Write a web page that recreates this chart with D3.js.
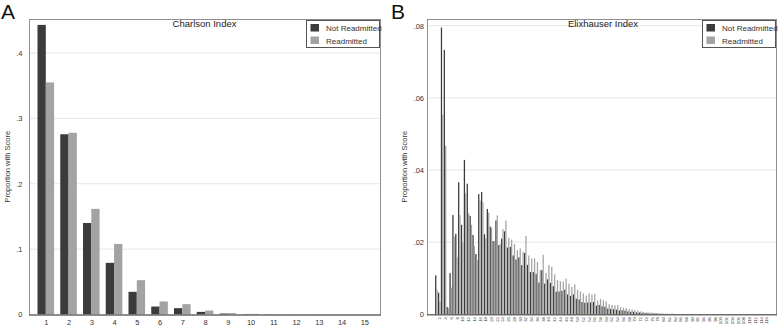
<!DOCTYPE html>
<html>
<head>
<meta charset="utf-8">
<script src="https://cdn.jsdelivr.net/npm/d3@7"></script>
<style>
  html, body { margin: 0; padding: 0; background: #fff; }
  svg { display: block; font-family: "Liberation Sans", Arial, sans-serif; }
</style>
</head>
<body>
<svg id="chart" width="778" height="326"></svg>
<script>
// ---------- DATA ----------
const seriesNames = ["Not Readmitted", "Readmitted"];

const charlsonCats = [1,2,3,4,5,6,7,8,9,10,11,12,13,14,15];
const charlsonNot  = [0.443,0.2757,0.140,0.079,0.0347,0.0122,0.0097,0.0040,0.0015,0.0006,0.0003,0.0002,0.0002,0.0001,0.0001];
const charlsonRe   = [0.355,0.2780,0.1616,0.108,0.0525,0.0199,0.0158,0.0060,0.0022,0.0010,0.0005,0.0003,0.0002,0.0002,0.0001];
const charlsonTicks = [0, 0.1, 0.2, 0.3, 0.4];

const elixCats = d3.range(1, 117);
const elixNot = [
  0.0108,0.0060,0.0795,0.0733,0.0020,0.0114,0.0275,0.0223,0.0366,0.0248,
  0.0428,0.0362,0.0273,0.0220,0.0167,0.0333,0.0339,0.0222,0.0292,0.0243,
  0.0203,0.0260,0.0192,0.0210,0.0230,0.0185,0.0187,0.0163,0.0152,0.0158,
  0.0136,0.0170,0.0137,0.0117,0.0117,0.0112,0.0088,0.0122,0.0085,0.0097,
  0.0087,0.0078,0.0063,0.0063,0.0065,0.0068,0.0055,0.0051,0.0055,0.0043,
  0.0041,0.0034,0.0032,0.0033,0.0033,0.0034,0.0024,0.0026,0.0022,0.0021,
  0.0016,0.0015,0.0014,0.0013,0.0011,0.0011,0.0010,0.0008,0.0007,0.0007,
  0.0005,0.0005,0.0004,0.0003,0.0003,0.0002,0.0002,0.0002,0.00015,0.00015,
  0.0001,0.0001,0.0001,0.0001,0.00008,0.00008,0.00006,0.00006,0.00005,0.00005,
  0.00004,0.00004,0.00003,0.00003,0.00003,0.00002,0.00002,0.00002,0.00002,0.00001,
  0.00001,0.00001,0.00001,0.00001,0.00001,0.00001,0,0,0,0,
  0,0,0,0,0,0
];
const elixRe = [
  0.0068,0.0036,0.0553,0.0467,0.0017,0.0074,0.0215,0.0158,0.0275,0.0198,
  0.0335,0.0280,0.0248,0.0190,0.0150,0.0315,0.0310,0.0210,0.0282,0.0240,
  0.0203,0.0274,0.0195,0.0236,0.0260,0.0212,0.0207,0.0195,0.0178,0.0183,
  0.0173,0.0217,0.0163,0.0155,0.0155,0.0145,0.0123,0.0165,0.0115,0.0137,
  0.0132,0.0111,0.0095,0.0092,0.0091,0.0099,0.0085,0.0076,0.0083,0.0068,
  0.0063,0.0058,0.0052,0.0058,0.0055,0.0056,0.0038,0.0043,0.0039,0.0036,
  0.0028,0.0026,0.0025,0.0026,0.0020,0.0018,0.0017,0.0015,0.0013,0.0012,
  0.0010,0.0008,0.0007,0.0006,0.0005,0.0005,0.0004,0.0003,0.00025,0.0002,
  0.0002,0.00015,0.00015,0.00012,0.0001,0.0001,0.0001,0.00008,0.00008,0.00006,
  0.00006,0.00005,0.00005,0.00004,0.00004,0.00003,0.00003,0.00003,0.00002,0.00002,
  0.00002,0.00002,0.00001,0.00001,0.00001,0.00001,0.00001,0.00001,0,0,
  0,0,0,0,0,0
];
const elixTicks = [0, 0.02, 0.04, 0.06, 0.08];
const elixTickLabels = elixCats.filter(d => d % 2 === 0);

// ---------- STYLE ----------
const colDark = "#3b3b3b", colLight = "#a3a3a3";
const txt = "#333";
const fmt = v => v === 0 ? "0" : d3.format(".2~f")(v).replace(/^0/, "");

const svg = d3.select("#chart");

function panel(cfg) {
  const g = svg.append("g");
  const { left, right, top, bottom } = cfg.frame;

  const x = d3.scalePoint().domain(cfg.cats).range(cfg.xRange);
  const y = d3.scaleLinear().domain([0, cfg.yTickTop]).range([bottom, cfg.yTickTopPx]);
  const sub = d3.scaleBand().domain(seriesNames).range([-cfg.barW, cfg.barW]).paddingInner(cfg.subPad);

  // gridlines
  g.append("g").selectAll("line").data(cfg.yTicks.filter(t => t > 0)).join("line")
    .attr("x1", left).attr("x2", right)
    .attr("y1", d => y(d)).attr("y2", d => y(d))
    .attr("stroke", "#e6e6e6").attr("stroke-width", 1);

  // bars
  const series = [cfg.not, cfg.re];
  const cols = [colDark, colLight];
  series.forEach((vals, si) => {
    g.append("g").selectAll("rect").data(cfg.cats).join("rect")
      .attr("x", (d) => x(d) + sub(seriesNames[si]))
      .attr("width", sub.bandwidth())
      .attr("y", (d, i) => y(vals[i]))
      .attr("height", (d, i) => bottom - y(vals[i]))
      .attr("fill", cols[si]);
  });

  // frame
  g.append("rect").attr("x", left + 0.5).attr("y", top + 0.5)
    .attr("width", right - left - 1).attr("height", bottom - top)
    .attr("fill", "none").attr("stroke", "#8e8e8e").attr("stroke-width", 1);
  g.append("line").attr("x1", left).attr("x2", right)
    .attr("y1", bottom + 0.5).attr("y2", bottom + 0.5)
    .attr("stroke", "#555").attr("stroke-width", 1);

  // y axis labels
  const ya = d3.axisLeft(y).tickValues(cfg.yTicks).tickFormat(fmt).tickSize(0).tickPadding(0);
  const yg = g.append("g").attr("transform", `translate(${cfg.yLabelX},0)`).call(ya);
  yg.select(".domain").remove();
  yg.selectAll("text").attr("fill", txt).attr("font-size", cfg.yFont).attr("font-family", "Liberation Sans, Arial, sans-serif");

  // x axis labels
  const xa = d3.axisBottom(x).tickValues(cfg.xTickVals).tickSize(0).tickPadding(0);
  const xg = g.append("g").attr("transform", `translate(0,${cfg.xLabelY})`).call(xa);
  xg.select(".domain").remove();
  xg.selectAll("text").attr("fill", txt).attr("font-size", cfg.xFont).attr("font-family", "Liberation Sans, Arial, sans-serif");
  if (cfg.rotate) {
    xg.selectAll("text")
      .attr("transform", "rotate(-90)")
      .attr("text-anchor", "end")
      .attr("x", 0).attr("y", 0).attr("dx", 0).attr("dy", "0.35em");
    xg.selectAll(".tick").attr("transform", d => `translate(${x(d) + 0.6},0)`);
  } else {
    xg.selectAll("text").attr("dy", "0.71em");
  }

  // y title
  g.append("text")
    .attr("transform", `translate(${cfg.yTitleX},${(top + bottom) / 2}) rotate(-90)`)
    .attr("text-anchor", "middle").attr("dy", "0.35em")
    .attr("font-size", 7.5).attr("fill", txt)
    .text("Proportion with Score");

  // chart title
  g.append("text").attr("x", cfg.titleX).attr("y", 27)
    .attr("text-anchor", "middle").attr("font-size", 9.5).attr("fill", "#222")
    .text(cfg.title);

  // panel letter
  g.append("text").attr("x", cfg.letterX).attr("y", 18.5)
    .attr("font-size", 21).attr("fill", "#111")
    .text(cfg.letter);

  // legend
  const L = cfg.legend;
  const lg = g.append("g");
  lg.append("rect").attr("x", L.x + 0.5).attr("y", L.y + 0.5).attr("width", L.w).attr("height", L.h)
    .attr("fill", "#fff").attr("stroke", "#555").attr("stroke-width", 1);
  seriesNames.forEach((name, i) => {
    lg.append("rect").attr("x", L.x + 4.5).attr("y", L.y + 4 + i * 12.5)
      .attr("width", 8.5).attr("height", 7.5).attr("fill", cols[i]);
    lg.append("text").attr("x", L.x + L.textDx).attr("y", L.y + 11 + i * 12.5)
      .attr("font-size", 8).attr("fill", txt).text(name);
  });
}

panel({
  letter: "A", letterX: 1, title: "Charlson Index", titleX: 204.5,
  frame: { left: 29, right: 381, top: 19, bottom: 314.5 },
  cats: charlsonCats, not: charlsonNot, re: charlsonRe,
  xRange: [45.8, 364.3], barW: 8.3, subPad: 0,
  yTicks: charlsonTicks, yTickTop: 0.4, yTickTopPx: 53,
  yLabelX: 22.5, yFont: 7.5, xTickVals: charlsonCats, xLabelY: 319.5, xFont: 7.5, rotate: false,
  yTitleX: 7.5,
  legend: { x: 306, y: 20, w: 73, h: 27, textDx: 20 }
});

panel({
  letter: "B", letterX: 391, title: "Elixhauser Index", titleX: 603,
  frame: { left: 427, right: 777, top: 19, bottom: 314.3 },
  cats: elixCats, not: elixNot, re: elixRe,
  xRange: [436.4, 766.2], barW: 1.3, subPad: 0.05,
  yTicks: elixTicks, yTickTop: 0.08, yTickTopPx: 25.7,
  yLabelX: 424, yFont: 7.5, xTickVals: elixTickLabels, xLabelY: 317, xFont: 4.3, rotate: true,
  yTitleX: 404,
  legend: { x: 702, y: 20, w: 73, h: 27, textDx: 20 }
});
</script>
</body>
</html>
